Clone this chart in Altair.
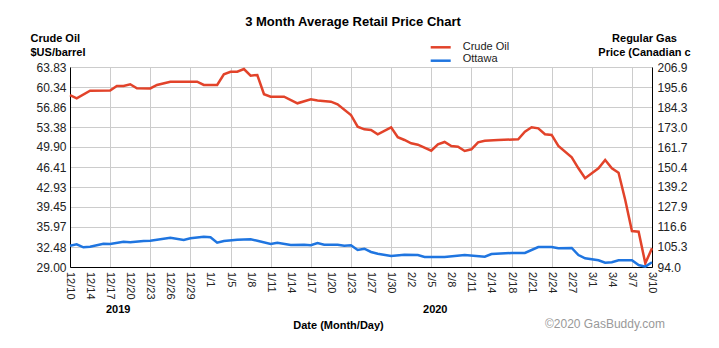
import altair as alt
import pandas as pd

# ---------------- data ----------------
chart_title = "3 Month Average Retail Price Chart"
date_labels = ["12/10", "12/14", "12/17", "12/20", "12/23", "12/26", "12/29", "1/1", "1/5", "1/8",
               "1/11", "1/14", "1/17", "1/20", "1/23", "1/27", "1/30", "2/2", "2/5", "2/8",
               "2/11", "2/14", "2/18", "2/21", "2/24", "2/27", "3/1", "3/4", "3/7", "3/10"]
tick_step = 3
n_days = 87

series_names = ["Crude Oil", "Ottawa"]

crude_day = [0, 1, 3, 6, 7, 8, 9, 10, 12, 13, 15, 19, 20, 22, 23, 24, 25, 26, 27, 28,
             29, 30, 32, 34, 36, 37, 39, 40, 42, 43, 44, 45, 46, 48, 49, 50, 51, 52, 54, 55,
             56, 57, 58, 59, 60, 61, 62, 64, 67, 68, 69, 70, 71, 72, 73, 75, 76, 77, 78, 79,
             80, 81, 82, 83, 84, 85, 86, 87]
crude_price = [58.95, 58.38, 59.70, 59.74, 60.52, 60.52, 60.82, 60.12, 60.09, 60.70,
               61.27, 61.27, 60.70, 60.70, 62.56, 63.01, 63.01, 63.48, 62.32, 62.44,
               59.08, 58.66, 58.66, 57.51, 58.20, 58.00, 57.79, 57.33, 55.47, 53.43,
               52.98, 52.86, 52.11, 53.33, 51.59, 51.12, 50.54, 50.30, 49.25, 50.37,
               50.77, 50.07, 49.95, 49.20, 49.50, 50.72, 51.00, 51.12, 51.24, 52.56,
               53.33, 53.15, 52.11, 52.00, 50.07, 48.10, 46.19, 44.45, 45.32, 46.19,
               47.63, 46.19, 45.42, 40.67, 35.27, 35.15, 29.64, 32.26]

gas_day = [0, 1, 2, 3, 5, 6, 8, 9, 11, 12, 15, 17, 18, 20, 21, 22, 23, 25, 27, 28,
           30, 31, 33, 35, 36, 37, 38, 40, 41, 42, 43, 44, 45, 46, 48, 50, 52, 53, 56, 59,
           62, 63, 66, 68, 70, 72, 73, 75, 76, 77, 79, 80, 81, 82, 84, 85, 86, 87]
gas_price = [106.02, 106.81, 105.12, 105.46, 107.15, 106.98, 108.28, 107.94, 108.68, 108.85,
             110.54, 109.24, 110.20, 111.10, 110.77, 107.72, 108.68, 109.41, 109.64, 108.85,
             106.98, 107.72, 106.42, 106.59, 106.25, 107.55, 106.59, 106.59, 106.02, 106.25,
             103.60, 104.33, 102.47, 101.51, 100.21, 100.94, 100.77, 99.65, 99.65, 100.77,
             99.81, 101.34, 101.90, 101.90, 105.29, 105.29, 104.56, 104.73, 100.77, 98.91,
             97.78, 96.43, 96.65, 97.78, 97.78, 95.13, 94.20, 96.65]

crude_ticks = [29.00, 32.48, 35.97, 39.45, 42.93, 46.41, 49.90, 53.38, 56.86, 60.34, 63.83]
gas_ticks = [94.0, 105.3, 116.6, 127.9, 139.2, 150.4, 161.7, 173.0, 184.3, 195.6, 206.9]

years = ["2019", "2020"]
year_day = [7.2, 54.6]

left_title = ["Crude Oil", "$US/barrel"]
right_title = ["Regular Gas", "Price (Canadian c"]
x_title = "Date (Month/Day)"
credit = "\u00a92020 GasBuddy.com"

# ---------------- tables ----------------
crude_df = pd.DataFrame({"day": crude_day, "price": crude_price})
gas_df = pd.DataFrame({"day": gas_day, "price": gas_price})
year_df = pd.DataFrame({"day": year_day, "year": years})
tick_days = [i * tick_step for i in range(len(date_labels))]
xlab_df = pd.DataFrame({"day": tick_days, "label": date_labels})
one = pd.DataFrame({"k": [0]})

FONT = "Liberation Sans"
RED = "#e2432a"
BLUE = "#1f75e0"
W, H = 582, 200

x_enc = alt.X(
    "day:Q",
    scale=alt.Scale(domain=[0, n_days], nice=False, zero=False),
    axis=alt.Axis(
        values=tick_days, labels=False,
        ticks=False, grid=True, gridColor="#cccccc", domainColor="#000",
        title=x_title, titleFont=FONT, titleFontSize=11, titleFontWeight="bold",
        titleColor="#000", titleX=268, titleY=61, titleAlign="center",
        titleBaseline="alphabetic", titleAngle=0,
    ),
)

crude = alt.Chart(crude_df).mark_line(color=RED, strokeWidth=2.5).encode(
    x=x_enc,
    y=alt.Y(
        "price:Q",
        scale=alt.Scale(domain=[crude_ticks[0], crude_ticks[-1]], nice=False, zero=False),
        axis=alt.Axis(
            orient="left", values=crude_ticks, format=".2f",
            labelOverlap=False, labelFlush=False,
            labelFont=FONT, labelFontSize=12, labelColor="#222", labelPadding=4,
            ticks=False, grid=True, gridColor="#cccccc", domainColor="#000",
            title=left_title, titleFont=FONT, titleFontSize=11, titleFontWeight="bold",
            titleColor="#000", titleAngle=0, titleAlign="left", titleBaseline="alphabetic",
            titleX=-40, titleY=-26, titleLineHeight=14,
        ),
    ),
)

gas = alt.Chart(gas_df).mark_line(color=BLUE, strokeWidth=2.5).encode(
    x=alt.X("day:Q"),
    y=alt.Y(
        "price:Q",
        scale=alt.Scale(domain=[gas_ticks[0], gas_ticks[-1]], nice=False, zero=False),
        axis=alt.Axis(
            orient="right", values=gas_ticks, format=".1f",
            labelOverlap=False, labelFlush=False,
            labelFont=FONT, labelFontSize=12, labelColor="#222", labelPadding=5,
            ticks=False, grid=False, domainColor="#000",
            title=right_title, titleFont=FONT, titleFontSize=11, titleFontWeight="bold",
            titleColor="#000", titleAngle=0, titleAlign="center", titleBaseline="alphabetic",
            titleX=-8, titleY=-26, titleLineHeight=14,
        ),
    ),
)

xlab_text = alt.Chart(xlab_df).mark_text(
    font=FONT, fontSize=11, color="#222", angle=90, align="left", baseline="middle"
).encode(x=alt.X("day:Q"), y=alt.value(H + 5), text="label:N")

year_text = alt.Chart(year_df).mark_text(
    font=FONT, fontSize=11, fontWeight="bold", color="#000", align="center", baseline="alphabetic"
).encode(x=alt.X("day:Q"), y=alt.value(245.5), text="year:N")

title_text = alt.Chart(one).mark_text(
    font=FONT, fontSize=13, fontWeight="bold", color="#000", align="center", baseline="alphabetic"
).encode(x=alt.value(283), y=alt.value(-41), text=alt.value(chart_title))

leg_red = alt.Chart(one).mark_rule(color=RED, strokeWidth=2.5).encode(
    x=alt.value(360.7), x2=alt.value(380.7), y=alt.value(-19.7))
leg_blue = alt.Chart(one).mark_rule(color=BLUE, strokeWidth=2.5).encode(
    x=alt.value(360.7), x2=alt.value(380.7), y=alt.value(-6.3))
leg_t1 = alt.Chart(one).mark_text(
    font=FONT, fontSize=11, color="#222", align="left", baseline="middle"
).encode(x=alt.value(392.7), y=alt.value(-20.3), text=alt.value(series_names[0]))
leg_t2 = alt.Chart(one).mark_text(
    font=FONT, fontSize=11, color="#222", align="left", baseline="middle"
).encode(x=alt.value(392.7), y=alt.value(-7.7), text=alt.value(series_names[1]))

credit_text = alt.Chart(one).mark_text(
    font=FONT, fontSize=12, color="#999999", align="left", baseline="alphabetic"
).encode(x=alt.value(475), y=alt.value(261), text=alt.value(credit))

chart = alt.layer(
    crude, gas, xlab_text, year_text, title_text, leg_red, leg_blue, leg_t1, leg_t2, credit_text
).resolve_scale(y="independent").properties(
    width=W, height=H,
    padding={"left": 70, "top": 67, "right": 67, "bottom": 81},
    autosize=alt.AutoSizeParams(type="none"),
).configure_view(stroke="#000", strokeWidth=1).configure(background="white")

chart.save("out.html", embed_options={"renderer": "svg", "actions": False})
